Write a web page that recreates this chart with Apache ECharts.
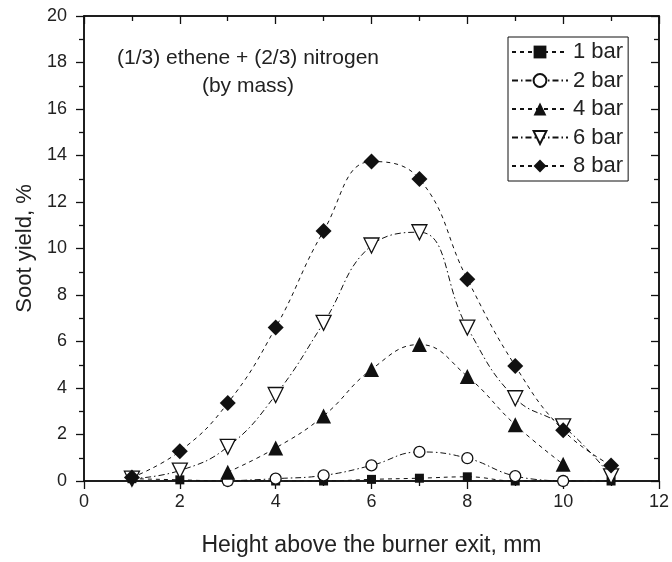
<!DOCTYPE html>
<html>
<head>
<meta charset="utf-8">
<script src="https://cdn.jsdelivr.net/npm/echarts@6/dist/echarts.min.js"></script>
<style>
  html, body { margin: 0; padding: 0; background: #fff; }
  #main { width: 672px; height: 562px; }
</style>
</head>
<body>
<div id="main"></div>
<script>
// 高度 (mm)
var heights = [1, 2, 3, 4, 5, 6, 7, 8, 9, 10, 11];
// 各压力下的碳烟产率 (%)，null = 没有数据点
var bar1 = [0.1, 0.05, 0, 0, 0, 0.07, 0.12, 0.18, 0, 0, 0];
var bar2 = [null, null, 0, 0.1, 0.24, 0.67, 1.25, 0.98, 0.21, 0, null];
var bar4 = [null, null, 0.38, 1.42, 2.8, 4.8, 5.87, 4.5, 2.42, 0.72, null];
var bar6 = [0.1, 0.45, 1.47, 3.7, 6.8, 10.13, 10.7, 6.6, 3.56, 2.35, 0.2];
var bar8 = [0.15, 1.28, 3.35, 6.6, 10.75, 13.74, 12.99, 8.68, 4.95, 2.18, 0.67];
var xTicks = [0, 2, 4, 6, 8, 10, 12];
var yTicks = [0, 2, 4, 6, 8, 10, 12, 14, 16, 18, 20];

var FONT = '"Liberation Sans", Arial, sans-serif';

function pairs(vals) {
    var out = [];
    for (var i = 0; i < heights.length; i++) {
        if (vals[i] !== null) out.push([heights[i], vals[i]]);
    }
    return out;
}

function makeSeries(name, vals, symbol, size, filled, dash) {
    return {
        name: name,
        type: 'line',
        data: pairs(vals),
        smooth: 0.45,
        symbol: symbol,
        symbolSize: size,
        showAllSymbol: true,
        lineStyle: { color: '#111', width: 1, type: dash },
        itemStyle: {
            color: filled ? '#111' : '#fff',
            borderColor: '#111',
            borderWidth: filled ? 0 : 1.3
        }
    };
}

var dashed = [4, 4];
var dashDot = [6, 3, 1.5, 3];

var tickStyle = { color: '#111', width: 1.3 };

var dom = document.getElementById('main');
var myChart = echarts.init(dom);

var option = {
    animation: false,
    backgroundColor: '#fff',
    textStyle: { fontFamily: FONT },
    title: {
        text: '(1/3) ethene + (2/3) nitrogen\n(by mass)',
        left: 243,
        top: 39,
        textAlign: 'center',
        textStyle: { fontFamily: FONT, fontWeight: 'normal', fontSize: 21, lineHeight: 28, color: '#222' }
    },
    legend: {
        orient: 'vertical',
        left: 508,
        top: 37,
        padding: [4, 5, 4, 3],
        itemWidth: 56,
        itemHeight: 16,
        itemGap: 6.5,
        borderColor: '#111',
        borderWidth: 1,
        textStyle: { fontFamily: FONT, fontSize: 22, lineHeight: 22, color: '#222' },
        data: ['1 bar', '2 bar', '4 bar', '6 bar', '8 bar']
    },
    grid: { left: 84, right: 11, top: 16, bottom: 74, containLabel: false,
        show: true, borderColor: '#111', borderWidth: 1.5 },
    xAxis: [{
        type: 'value',
        min: 0, max: 12, interval: 2,
        name: 'Height above the burner exit, mm',
        nameLocation: 'middle',
        nameGap: 53,
        nameTextStyle: { fontFamily: FONT, fontSize: 23, color: '#222' },
        axisLine: { show: true, lineStyle: { color: '#111', width: 1.5 } },
        axisTick: { show: true, length: 8, lineStyle: tickStyle },
        minorTick: { show: true, splitNumber: 2, length: 5, lineStyle: tickStyle },
        axisLabel: { fontFamily: FONT, fontSize: 18, color: '#222', margin: 12,
            formatter: function (v) { return xTicks.indexOf(v) >= 0 ? String(v) : ''; } },
        splitLine: { show: false }
    }, {
        type: 'value',
        position: 'top',
        min: 0, max: 12, interval: 2,
        axisLine: { show: true, onZero: false, lineStyle: { color: '#111', width: 1.5 } },
        axisTick: { show: true, inside: true, length: 8, lineStyle: tickStyle },
        minorTick: { show: true, splitNumber: 2, length: 5, lineStyle: tickStyle },
        axisLabel: { show: false },
        splitLine: { show: false }
    }],
    yAxis: [{
        type: 'value',
        min: 0, max: 20, interval: 2,
        name: 'Soot yield, %',
        nameLocation: 'middle',
        nameGap: 40,
        nameTextStyle: { fontFamily: FONT, fontSize: 22, color: '#222' },
        axisLine: { show: true, lineStyle: { color: '#111', width: 1.5 } },
        axisTick: { show: true, length: 8, lineStyle: tickStyle },
        minorTick: { show: true, splitNumber: 2, length: 5, lineStyle: tickStyle },
        axisLabel: { fontFamily: FONT, fontSize: 18, color: '#222', margin: 17,
            formatter: function (v) { return yTicks.indexOf(v) >= 0 ? String(v) : ''; } },
        splitLine: { show: false }
    }, {
        type: 'value',
        position: 'right',
        min: 0, max: 20, interval: 2,
        axisLine: { show: true, onZero: false, lineStyle: { color: '#111', width: 1.5 } },
        axisTick: { show: true, inside: true, length: 8, lineStyle: tickStyle },
        minorTick: { show: true, splitNumber: 2, length: 5, lineStyle: tickStyle },
        axisLabel: { show: false },
        splitLine: { show: false }
    }],
    series: [
        makeSeries('1 bar', bar1, 'rect', 9, true, dashed),
        makeSeries('2 bar', bar2, 'circle', 11, false, dashDot),
        makeSeries('4 bar', bar4, 'triangle', 15, true, dashed),
        makeSeries('6 bar', bar6, 'path://M0,0 L10,0 L5,9 Z', 15, false, dashDot),
        makeSeries('8 bar', bar8, 'diamond', 16, true, dashed),
        // 空系列，让顶部和右侧坐标轴也画出刻度
        { type: 'line', xAxisIndex: 1, yAxisIndex: 1, data: [], silent: true }
    ]
};

if (option && typeof option === "object") {
    myChart.setOption(option, true);
}
</script>
</body>
</html>
